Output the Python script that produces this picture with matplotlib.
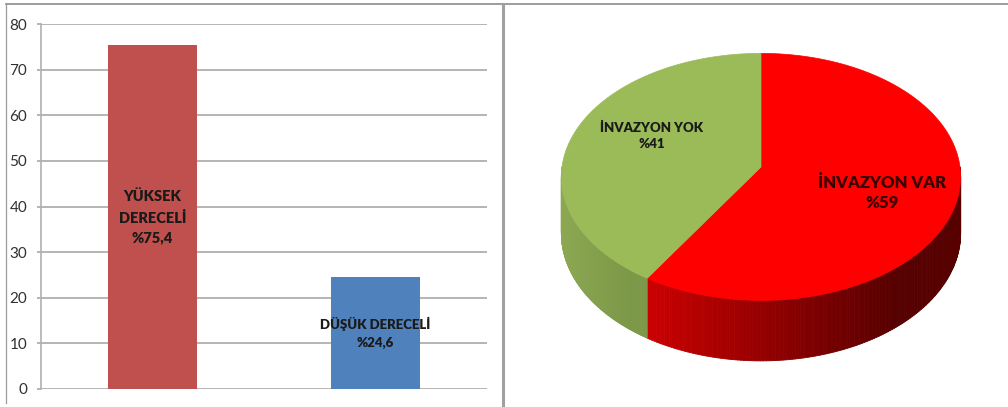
import numpy as np
import matplotlib.pyplot as plt
from matplotlib.lines import Line2D
from matplotlib.patches import Polygon
from matplotlib.collections import PolyCollection
from matplotlib.colors import to_rgb

plt.rcParams['font.family'] = ['Lato', 'DejaVu Sans']

# --- bar chart data ---
bar_labels = ['YÜKSEK\nDERECELİ\n%75,4', 'DÜŞÜK DERECELİ\n%24,6']
bar_values = [75.4, 24.6]
bar_colors = ['#C0504D', '#4F81BD']
y_ticks = [0, 10, 20, 30, 40, 50, 60, 70, 80]

# --- pie chart data ---
pie_labels = ['İNVAZYON VAR', 'İNVAZYON YOK']
pie_values = [59, 41]
pie_top_colors = ['#FF0000', '#9BBB59']
pie_side_colors = [('#CC0000', '#560000'), ('#8DA852', '#7C9848')]
pie_text_colors = ['#3A0000', '#1A1A1A']

W, H = 1008, 407
fig = plt.figure(figsize=(W / 100, H / 100), dpi=100)

# ---------------- left: bar chart ----------------
ax = fig.add_axes([41 / W, 1 - 389 / H, (487 - 41) / W, (389 - 24) / H])
x = np.arange(len(bar_values))
ax.bar(x, bar_values, width=0.4, color=bar_colors, zorder=3)
ax.set_xlim(-0.5, len(bar_values) - 0.5)
ax.set_ylim(0, 80)
ax.set_yticks(y_ticks)
ax.set_xticks([])
ax.grid(True, axis='y', color='#A8A8A8', linewidth=1.2, zorder=0)
for s in ['top', 'right', 'bottom']:
    ax.spines[s].set_visible(False)
ax.spines['left'].set_color('#B0B0B0')
ax.spines['left'].set_linewidth(1.2)
ax.tick_params(axis='y', length=3, width=1.2, color='#A8A8A8', pad=7,
               labelsize=11, labelcolor='#303030')

for xi, val, lab, fs in zip(x, bar_values, bar_labels, [10.5, 9.5]):
    ax.text(xi, val / 2, lab, ha='center', va='center', fontsize=fs,
            fontweight='heavy', color='#1A1A1A', linespacing=1.6, zorder=4)

# ---------------- right: 3D pie ----------------
ax2 = fig.add_axes([504 / W, 0, (W - 504) / W, 1])
ax2.set_xlim(504, W)
ax2.set_ylim(H, 0)
ax2.axis('off')

# ellipse with a little perspective: the front edge is drawn slightly larger
cx, cy, ra, rb, depth, persp = 761, 167, 199, 123.5, 56, 0.08


def ell(t, drop=0.0):
    sc = 1 - persp * np.sin(t)
    return cx + ra * np.cos(t) * sc, cy - rb * np.sin(t) * sc + drop * sc


# slice angles: start at 12 o'clock, go clockwise
fracs = np.array(pie_values, dtype=float) / sum(pie_values)
starts = 90 - np.concatenate([[0], np.cumsum(fracs)[:-1]]) * 360
ends = starts - fracs * 360

# side walls (front half only), drawn as thin shaded strips
for s, e, (c0, c1) in zip(starts, ends, pie_side_colors):
    lo, hi = np.deg2rad(e), np.deg2rad(s)
    # front half is where sin(t) < 0, i.e. t in [-pi, 0] (mod 2pi)
    segs = []
    for off in [-2 * np.pi, 0, 2 * np.pi]:
        a0, a1 = max(lo, -np.pi + off), min(hi, 0 + off)
        if a1 > a0:
            segs.append((a0, a1))
    for a0, a1 in segs:
        t = np.linspace(a0, a1, 160)
        px, py = ell(t)
        bx, by = ell(t, depth)
        xl, xr = px.min(), px.max()
        polys, cols = [], []
        for i in range(len(t) - 1):
            polys.append([(px[i], py[i]), (px[i + 1], py[i + 1]),
                          (bx[i + 1], by[i + 1]), (bx[i], by[i])])
            f = ((px[i] + px[i + 1]) / 2 - xl) / max(xr - xl, 1)
            f = min(1.0, f * 1.25)
            cols.append(tuple((1 - f) * np.array(to_rgb(c0)) + f * np.array(to_rgb(c1))))
        ax2.add_collection(PolyCollection(polys, facecolors=cols, edgecolors=cols,
                                          linewidths=0.6, zorder=1))

# top faces
for s, e, col in zip(starts, ends, pie_top_colors):
    t = np.linspace(np.deg2rad(e), np.deg2rad(s), 300)
    px, py = ell(t)
    pts = np.column_stack([np.r_[cx, px], np.r_[cy, py]])
    ax2.add_patch(Polygon(pts, closed=True, facecolor=col, edgecolor=col,
                          linewidth=0.5, zorder=2))

ax2.text(882, 193, pie_labels[0] + '\n%' + str(pie_values[0]), ha='center', va='center',
         fontsize=12, fontweight='heavy', color=pie_text_colors[0], linespacing=1.35, zorder=3)
ax2.text(652, 136, pie_labels[1] + '\n%' + str(pie_values[1]), ha='center', va='center',
         fontsize=9.5, fontweight='heavy', color=pie_text_colors[1], linespacing=1.45, zorder=3)

# ---------------- frame lines ----------------
fig.add_artist(Line2D([6 / W, 1], [1 - 4 / H, 1 - 4 / H], color='#8C8C8C', linewidth=1.2))
fig.add_artist(Line2D([6 / W, 6 / W], [1 - 4 / H, 1 - 403 / H], color='#9A9A9A', linewidth=0.9))
fig.add_artist(Line2D([503 / W, 503 / W], [1 - 4 / H, 0], color='#A0A0A0', linewidth=2.2))

fig.savefig('out.png', dpi=100)
